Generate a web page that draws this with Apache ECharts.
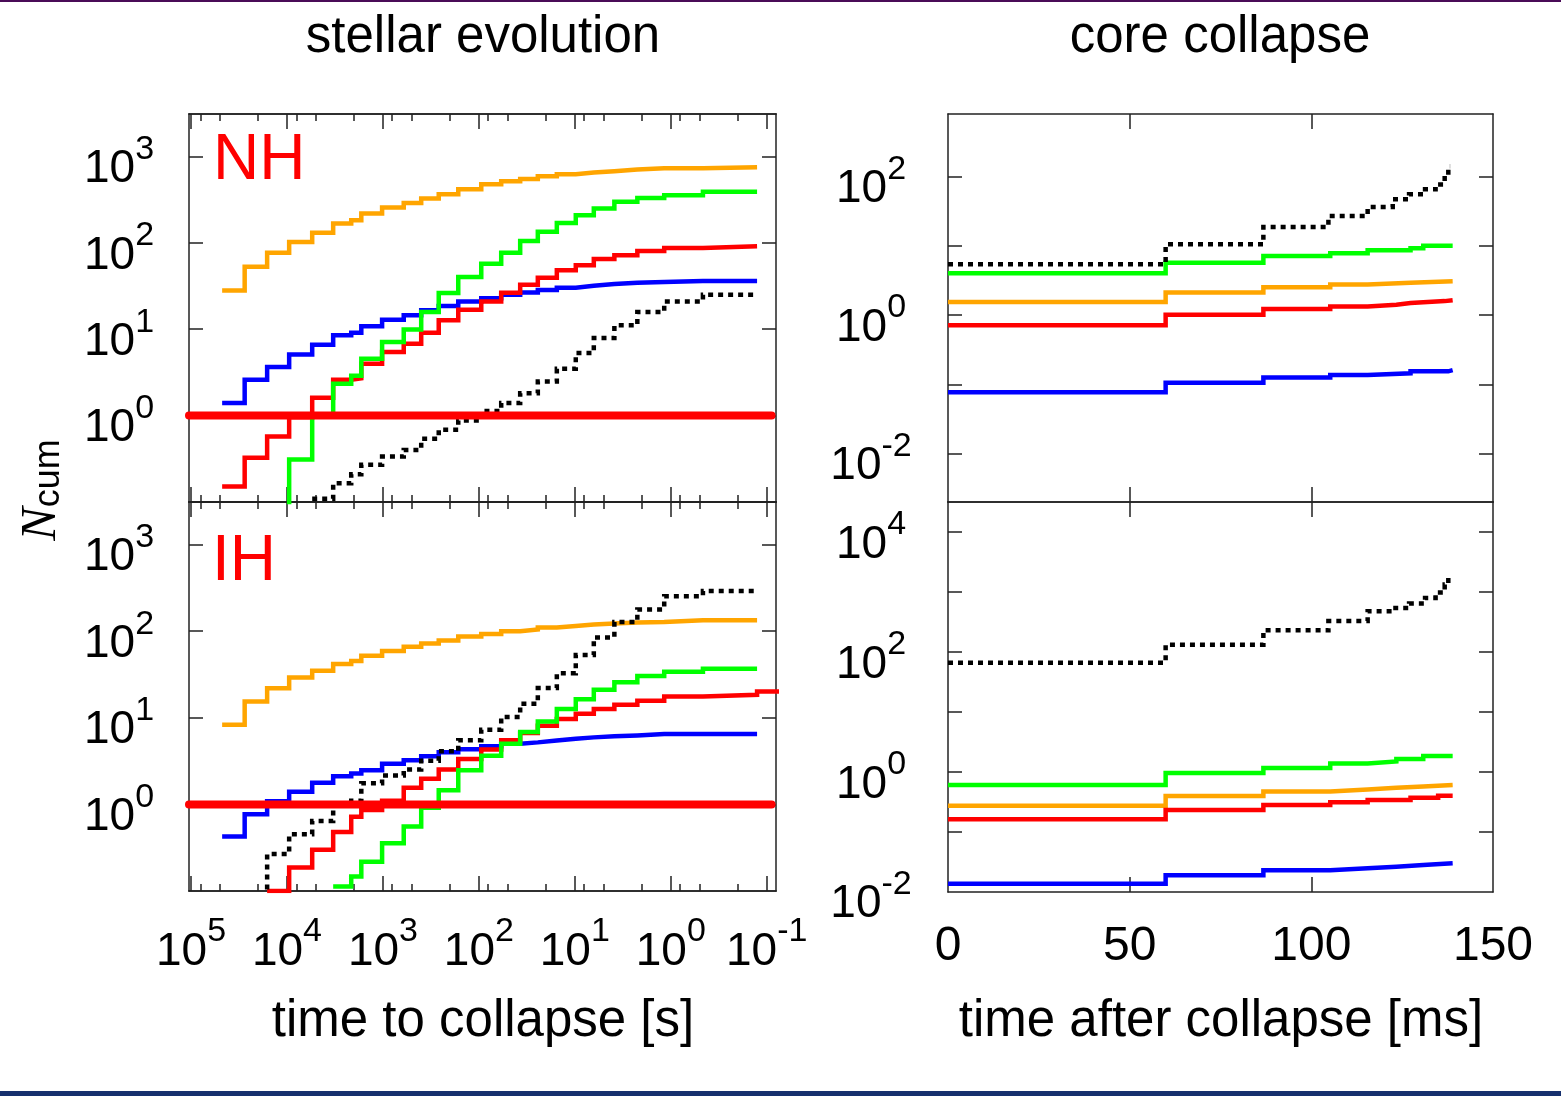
<!DOCTYPE html>
<html><head><meta charset="utf-8">
<script src="https://cdn.jsdelivr.net/npm/echarts@6/dist/echarts.min.js"></script>
<style>html,body{margin:0;padding:0;background:#fff}#c{width:1561px;height:1096px}</style>
</head><body><div id="c"></div>
<script>
// ---------- data ----------
// time-to-collapse bin edges [s] (left edge of each bin, decreasing)
const tEdges = [47400, 27600, 16100, 9490, 5460, 3300, 2140, 1680, 1020, 607, 399, 262, 164, 94.4, 58.5, 37.1, 24.3, 15.4, 9.77, 6.34, 3.87, 2.23, 1.17, 0.462, 0.126, 0.07];
// NH, stellar evolution (cumulative counts per bin; null = not drawn)
const nhOrange = [28, 53, 77, 102, 131, 167, 183, 218, 256, 290, 326, 366, 418, 478, 517, 550, 590, 624, 652, 675, 706, 731, 731, 752];
const nhBlue   = [1.4, 2.6, 3.65, 5.1, 6.6, 8.5, 9.1, 10.8, 12.9, 14.5, 16.6, 18.6, 20.9, 22.8, 25.1, 26.7, 28.5, 30.3, 31.9, 33.4, 34.6, 35.2, 36.2, 36.2];
const nhRed    = [0.151, 0.325, 0.574, 0.96, 1.61, 2.6, 2.7, 3.99, 5.45, 6.8, 9.12, 12.7, 16.8, 21.0, 26.5, 32.8, 39.5, 48.1, 55, 65, 71.8, 80.5, 87.3, 91.2];
const nhGreen  = [null, null, 0.05, 0.31, 1.0, 2.34, 2.9, 4.56, 7.1, 9.9, 15.8, 26.3, 40.3, 57.4, 77, 105, 134, 170, 209, 249, 298, 331, 356, 389];
const nhBlack  = [null, null, null, null, 0.109, 0.165, 0.209, 0.27, 0.336, 0.40, 0.54, 0.686, 0.88, 1.13, 1.40, 1.82, 2.49, 3.49, 5.3, 7.9, 11.1, 15.8, 21, 25.1];
// IH, stellar evolution
const ihOrange = [8.3, 15.4, 21.9, 29.1, 35.0, 41.8, 45.2, 52.1, 58.9, 66.1, 72.2, 78.2, 87, 92.5, 100, 104.6, 110.4, 115, 119.5, 122.7, 126, 128, 134, 134];
const ihBlue   = [0.426, 0.767, 1.09, 1.40, 1.78, 2.12, 2.27, 2.48, 2.95, 3.23, 3.59, 4.0, 4.33, 4.68, 5.02, 5.2, 5.48, 5.74, 5.94, 6.1, 6.26, 6.5, 6.5, 6.5];
const ihRed    = [null, null, 0.1, 0.187, 0.299, 0.481, 0.72, 0.86, 1.1, 1.56, 1.98, 2.53, 3.35, 4.29, 5.5, 6.67, 8.1, 9.66, 11.1, 12.6, 14.1, 15.7, 17.6, 18.4, 20.1];
const ihGreen  = [null, null, null, null, null, 0.113, 0.147, 0.217, 0.356, 0.555, 0.916, 1.46, 2.48, 3.65, 5.0, 6.86, 9.08, 12.6, 16.4, 21, 25.7, 30.4, 34.1, 36.9];
const ihBlack  = [null, 0.05, 0.267, 0.452, 0.643, 1.0, 1.1, 1.75, 2.16, 2.53, 3.2, 4.1, 5.5, 7.28, 10.2, 14.5, 22, 32.7, 53, 84.7, 128, 178, 253, 290];
// threshold line N = 1 across the stellar-evolution panels
const thresholdN = 1;
const thresholdSpan = [105000, 0.089];
// core collapse: [time after collapse ms, N]
const ccNhBlack  = [[0,5.4],[59.9,10.5],[86.8,18.7],[104.7,26.9],[115.5,36.3],[122.4,46.9],[126.9,55.3],[131.3,65.3],[134.2,77],[136.7,104],[137.7,141],[138.2,141]];
const ccNhGreen  = [[0,4.0],[59.9,5.7],[86.8,7.1],[105.2,7.8],[115.5,8.6],[127.3,9.2],[130.8,10.0],[138.9,10.0]];
const ccNhOrange = [[0,1.55],[59.9,2.12],[86.8,2.53],[105.2,2.77],[115.5,2.92],[127.3,3.08],[138.9,3.08]];
const ccNhRed    = [[0,0.71],[59.9,1.01],[86.8,1.22],[105.2,1.33],[115.5,1.41],[123.4,1.49],[127.3,1.59],[136.7,1.64],[138.9,1.64]];
const ccNhBlue   = [[0,0.077],[59.9,0.105],[86.8,0.125],[105.2,0.136],[115.5,0.144],[127.3,0.154],[137.7,0.16],[138.9,0.16]];
const ccIhBlack  = [[0,66],[59.9,132],[86.8,229],[104.7,327],[115.5,475],[122.4,541],[126.9,640],[131.3,794],[134.2,977],[136.7,1330],[137.7,1715],[138.2,1715]];
const ccIhGreen  = [[0,0.60],[59.9,0.955],[86.8,1.16],[105.2,1.38],[115.5,1.49],[123.4,1.64],[130.8,1.84],[138.9,1.84]];
const ccIhOrange = [[0,0.271],[59.9,0.394],[86.8,0.47],[105.2,0.507],[115.5,0.542],[123.4,0.57],[130.8,0.60],[138.9,0.60]];
const ccIhRed    = [[0,0.162],[59.9,0.23],[86.8,0.28],[105.2,0.31],[115.5,0.34],[127.3,0.37],[134.9,0.40],[138.9,0.40]];
const ccIhBlue   = [[0,0.0136],[59.9,0.0188],[86.8,0.0228],[105.2,0.0246],[115.5,0.0262],[123.4,0.0279],[130.8,0.0298],[138.9,0.0298]];
// axis ticks / labels
const tMajor = [1e5, 1e4, 1e3, 100, 10, 1, 0.1];
const tMinor = [8e4,5e4,2e4, 8e3,5e3,2e3, 800,500,200, 80,50,20, 8,5,2, 0.8,0.5,0.2];
const nSETicks = [1, 10, 100, 1000];
const msTicks = [50, 100];
const msLabels = [0, 50, 100, 150];
const ccNhTicks = [0.01, 0.1, 1, 10, 100];
const ccNhLabels = [0.01, 1, 100];
const ccIhTicks = [0.1, 1, 10, 100, 1000, 10000];
const ccIhLabels = [0.01, 1, 100, 10000];

// ---------- chart ----------
const FONT = "'Liberation Sans', Arial, Helvetica, sans-serif";
const AXC = '#222';
const COL = {orange:'#ffa500', blue:'#0000ff', red:'#ff0000', green:'#00ff00', black:'#000000'};
function expLabel(v){ const e = Math.round(Math.log10(v)); return '{b|10}{s|' + e + '}'; }
const rich = {
  b:{fontSize:46, lineHeight:60, verticalAlign:'bottom', fontFamily:FONT, color:'#000'},
  s:{fontSize:34, lineHeight:22, verticalAlign:'top', fontFamily:FONT, color:'#000'}
};
const axLine = {show:true, onZero:false, lineStyle:{color:AXC, width:1.5}};

function xLog(grid, pos, ticks, len, labels){
  return {type:'log', logBase:10, gridIndex:grid, position:pos, inverse:true, min:0.08, max:105000,
    axisLine:axLine,
    axisTick:{show:true, inside:true, length:len, customValues:ticks, lineStyle:{color:AXC, width:1.5}},
    axisLabel: labels ? {show:true, customValues:labels, formatter:expLabel, rich:rich, margin:24} : {show:false},
    splitLine:{show:false}, minorTick:{show:false}};
}
function xLin(grid, pos, labels){
  return {type:'value', gridIndex:grid, position:pos, min:0, max:150,
    axisLine:axLine,
    axisTick:{show:true, inside:true, length:15, customValues:msTicks, lineStyle:{color:AXC, width:1.5}},
    axisLabel: labels ? {show:true, customValues:msLabels, fontSize:48, fontFamily:FONT, color:'#000', margin:31} : {show:false},
    splitLine:{show:false}};
}
function yLog(grid, pos, min, max, ticks, labels, margin){
  return {type:'log', logBase:10, gridIndex:grid, position:pos, min:min, max:max,
    axisLine:axLine,
    axisTick:{show:true, inside:true, length:14, customValues:ticks, lineStyle:{color:AXC, width:1.5}},
    axisLabel: labels ? {show:true, customValues:labels, formatter:expLabel, rich:rich, margin:margin, align:'center', padding:[12,0,0,0]} : {show:false},
    splitLine:{show:false}, minorTick:{show:false}};
}
function stepData(edges, vals){
  const pts = []; let last = -1;
  for (let i = 0; i < vals.length; i++){ if (vals[i] == null) continue; pts.push([edges[i], vals[i]]); last = i; }
  pts.push([edges[last+1], vals[last]]);
  return pts;
}
function line(xi, yi, data, color, dotted){
  return {type:'line', xAxisIndex:xi, yAxisIndex:yi, data:data, step:'end', symbol:'none', showSymbol:false,
    clip:true, animation:false, silent:true,
    lineStyle:{color:color, width: dotted ? 4.5 : 4.5, type: dotted ? [5,5] : 'solid', cap:'butt', join:'miter'}};
}
function thick(xi, yi){
  return {type:'line', xAxisIndex:xi, yAxisIndex:yi, data:[[thresholdSpan[0], thresholdN],[thresholdSpan[1], thresholdN]],
    symbol:'none', clip:false, animation:false, silent:true, z:5,
    lineStyle:{color:COL.red, width:8, cap:'round'}};
}

const option = {
  backgroundColor:'#ffffff',
  animation:false,
  grid:[
    {left:189, top:114, width:587, height:388},
    {left:189, top:502, width:587, height:389},
    {left:948, top:114, width:545, height:388},
    {left:948, top:502, width:545, height:390}
  ],
  xAxis:[
    xLog(0,'bottom',tMajor,15,null), xLog(0,'bottom',tMinor,7,null), xLog(0,'top',tMajor,15,null), xLog(0,'top',tMinor,7,null),
    xLog(1,'bottom',tMajor,15,tMajor), xLog(1,'bottom',tMinor,7,null), xLog(1,'top',tMajor,15,null), xLog(1,'top',tMinor,7,null),
    xLin(2,'bottom',false), xLin(2,'top',false),
    xLin(3,'bottom',true), xLin(3,'top',false)
  ],
  yAxis:[
    yLog(0,'left',0.1,3100,nSETicks,nSETicks,70), yLog(0,'right',0.1,3100,nSETicks,null,0),
    yLog(1,'left',0.1,3100,nSETicks,nSETicks,70), yLog(1,'right',0.1,3100,nSETicks,null,0),
    yLog(2,'left',0.002,800,ccNhTicks,ccNhLabels,77), yLog(2,'right',0.002,800,ccNhTicks,null,0),
    yLog(3,'left',0.0099,31623,ccIhTicks,ccIhLabels,77), yLog(3,'right',0.0099,31623,ccIhTicks,null,0)
  ],
  series:[
    line(0,0,stepData(tEdges,nhOrange),COL.orange), line(0,0,stepData(tEdges,nhBlue),COL.blue),
    line(0,0,stepData(tEdges,nhRed),COL.red), line(0,0,stepData(tEdges,nhGreen),COL.green),
    line(0,0,stepData(tEdges,nhBlack),COL.black,true), thick(0,0),
    line(4,2,stepData(tEdges,ihOrange),COL.orange), line(4,2,stepData(tEdges,ihBlue),COL.blue),
    line(4,2,stepData(tEdges,ihRed),COL.red), line(4,2,stepData(tEdges,ihGreen),COL.green),
    line(4,2,stepData(tEdges,ihBlack),COL.black,true), thick(4,2),
    line(8,4,ccNhOrange,COL.orange), line(8,4,ccNhBlue,COL.blue), line(8,4,ccNhRed,COL.red),
    line(8,4,ccNhGreen,COL.green), line(8,4,ccNhBlack,COL.black,true),
    line(10,6,ccIhOrange,COL.orange), line(10,6,ccIhBlue,COL.blue), line(10,6,ccIhRed,COL.red),
    line(10,6,ccIhGreen,COL.green), line(10,6,ccIhBlack,COL.black,true)
  ],
  graphic:[
    {type:'rect', shape:{x:0,y:0,width:1561,height:2}, style:{fill:'#4a0c57'}, silent:true},
    {type:'rect', shape:{x:0,y:1091,width:1561,height:5}, style:{fill:'#16306e'}, silent:true},
    {type:'text', x:483, y:38, style:{text:'stellar evolution', font:'51px '+FONT, fill:'#000', textAlign:'center', textVerticalAlign:'middle'}},
    {type:'text', x:1220, y:38, style:{text:'core collapse', font:'51px '+FONT, fill:'#000', textAlign:'center', textVerticalAlign:'middle'}},
    {type:'text', x:483, y:1022, style:{text:'time to collapse [s]', font:'51px '+FONT, fill:'#000', textAlign:'center', textVerticalAlign:'middle'}},
    {type:'text', x:1221, y:1022, style:{text:'time after collapse [ms]', font:'51px '+FONT, fill:'#000', textAlign:'center', textVerticalAlign:'middle'}},
    {type:'text', x:213, y:161, z:10, style:{text:'NH', font:'64px '+FONT, fill:'#ff0000', textAlign:'left', textVerticalAlign:'middle'}},
    {type:'text', x:212, y:562, z:10, style:{text:'IH', font:'64px '+FONT, fill:'#ff0000', textAlign:'left', textVerticalAlign:'middle'}},
    {type:'text', x:42, y:490, rotation:Math.PI/2, style:{text:'{n|N}{c|cum}', textAlign:'center', textVerticalAlign:'middle',
      rich:{n:{fontSize:50, fontStyle:'italic', fontFamily:"'Liberation Serif','Times New Roman',serif", lineHeight:50, verticalAlign:'top', fill:'#000'},
            c:{fontSize:36, fontFamily:FONT, lineHeight:36, verticalAlign:'bottom', fill:'#000', padding:[22,0,0,0]}}}}
  ]
};
const chart = echarts.init(document.getElementById('c'), null, {renderer:'canvas', width:1561, height:1096});
chart.setOption(option);
</script></body></html>
